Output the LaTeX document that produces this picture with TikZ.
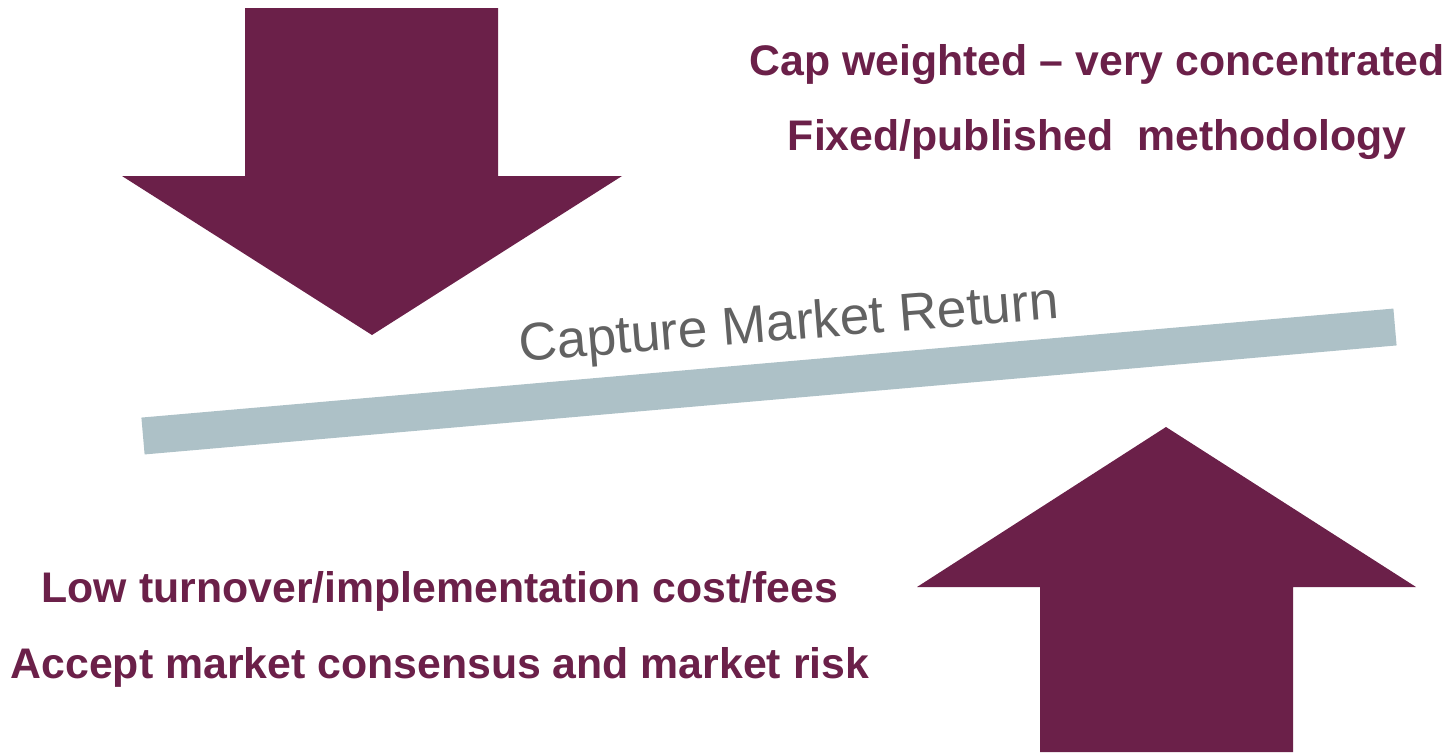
\documentclass[tikz,border=0pt]{standalone}
\usepackage{fontspec}
\setmainfont{Liberation Sans}
\definecolor{plum}{RGB}{107,32,73}
\definecolor{slate}{RGB}{173,193,199}
\definecolor{labelgray}{RGB}{98,98,98}
\tikzset{
	bigarrow/.style={fill=plum,draw=none},
	point/.style={font=\fontsize{21.4}{25}\selectfont\bfseries,text=plum,anchor=base,inner sep=0pt},
}
\begin{document}
\begin{tikzpicture}[x=0.5pt,y=-0.5pt]
	\useasboundingbox (0,0) rectangle (1448,752);
	% downward arrow
	\coordinate (D1) at (245,8); \coordinate (D2) at (498,8); \coordinate (D3) at (498,176);
	\coordinate (D4) at (622,176); \coordinate (D5) at (372,335); \coordinate (D6) at (122,176);
	\coordinate (D7) at (245,176);
	\fill[bigarrow] (D1)--(D2)--(D3)--(D4)--(D5)--(D6)--(D7)--cycle;
	% upward arrow
	\coordinate (U1) at (1040,752); \coordinate (U2) at (1293,752); \coordinate (U3) at (1293,587);
	\coordinate (U4) at (1416,587); \coordinate (U5) at (1166,427); \coordinate (U6) at (917,587);
	\coordinate (U7) at (1040,587);
	\fill[bigarrow] (U1)--(U2)--(U3)--(U4)--(U5)--(U6)--(U7)--cycle;
	% balance bar
	\coordinate (L) at (143,436); \coordinate (R) at (1395,327);
	\draw[slate,line width=18.5pt] (L)--(R);
	\node[font=\fontsize{26.6}{30}\selectfont,text=labelgray,anchor=base,rotate=4.6,inner sep=0pt] (ret) at (790,340) {Capture Market Return};
	% points
	\node[point] (cap) at (1097,75) {Cap weighted -- very concentrated};
	\node[point] (fix) at (1097,150) {Fixed/published\ \ methodology};
	\node[point] (low) at (440,602) {Low turnover/implementation cost/fees};
	\node[point] (acc) at (440,678) {Accept market consensus and market risk};
\end{tikzpicture}
\end{document}
